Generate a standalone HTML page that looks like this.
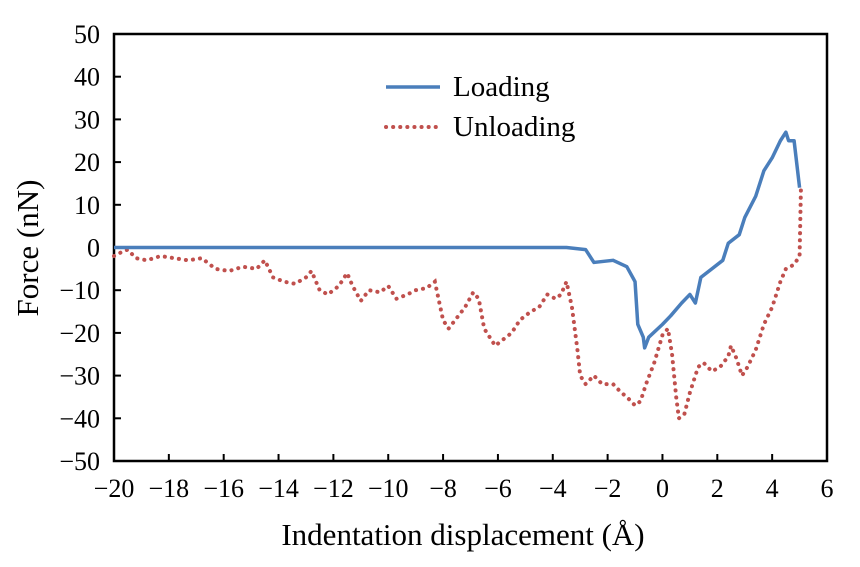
<!DOCTYPE html>
<html><head><meta charset="utf-8"><style>
body{margin:0;background:#fff;}
svg text{font-family:"Liberation Serif",serif;fill:#000;}
</style></head><body>
<svg id="chart" width="860" height="562"></svg>
<script>
const xTicks=[-20,-18,-16,-14,-12,-10,-8,-6,-4,-2,0,2,4,6];
const yTicks=[-50,-40,-30,-20,-10,0,10,20,30,40,50];
const loadX=[-20,-10,-3.5,-2.8,-2.5,-1.8,-1.3,-1.0,-0.9,-0.7,-0.65,-0.5,0,0.3,0.7,1.0,1.2,1.4,1.8,2.2,2.4,2.8,3.0,3.4,3.7,4.0,4.3,4.5,4.6,4.8,5.0];
const loadY=[0,0,0,-0.5,-3.5,-3,-4.5,-8,-18,-21,-23.5,-21,-18,-16,-13,-11,-13,-7,-5,-3,1,3,7,12,18,21,25,27,25,25,14];
const unX=[-20,-19.7,-19.5,-19.2,-18.8,-18.3,-17.8,-17.3,-16.8,-16.3,-15.8,-15.3,-14.8,-14.5,-14.2,-13.8,-13.4,-13,-12.8,-12.5,-12.2,-11.8,-11.5,-11.3,-11,-10.7,-10.3,-10,-9.7,-9.3,-9,-8.6,-8.3,-8.0,-7.8,-7.5,-7.2,-6.9,-6.7,-6.5,-6.1,-5.9,-5.5,-5.2,-4.8,-4.5,-4.2,-3.9,-3.7,-3.5,-3.3,-3.1,-3.0,-2.8,-2.5,-2.2,-1.8,-1.5,-1.3,-1.0,-0.8,-0.6,-0.3,0.0,0.2,0.35,0.5,0.6,0.8,1.0,1.3,1.5,1.8,2.1,2.4,2.5,2.7,2.9,3.1,3.4,3.7,4.0,4.3,4.5,4.8,5.0,5.05];
const unY=[-2,-1,-0.5,-2.5,-3,-2,-2.5,-3,-2.5,-5,-5.5,-4.5,-5,-3,-7,-8,-8.5,-7,-5.5,-10,-11,-9,-6,-9,-12.5,-10,-10.5,-9,-12,-11,-10,-9.5,-8,-17,-19,-16.5,-14,-10.5,-12,-19,-23,-22,-20,-17,-15,-14,-11,-12,-11,-8,-14,-24,-30,-32,-30,-32,-32,-34,-35,-37,-36,-32,-27,-20.5,-19,-25,-35,-40,-39,-34,-28,-27,-29,-28,-25.5,-23,-26,-30,-28,-24,-18,-14,-8,-5,-4,-2,14];
const NS="http://www.w3.org/2000/svg";
const svg=document.getElementById('chart');
const X0=114,X1=827,Y0=461,Y1=34;
const sx=v=>X0+(v+20)/26*(X1-X0);
const sy=v=>Y0-(v+50)/100*(Y0-Y1);
function mk(t,a,p){const e=document.createElementNS(NS,t);for(const k in a)e.setAttribute(k,a[k]);(p||svg).appendChild(e);return e;}
let e;
e=mk('rect',{x:X0,y:Y1,width:X1-X0,height:Y0-Y1,fill:'none',stroke:'#000','stroke-width':2.5});


xTicks.forEach(t=>{
 e=mk('line',{x1:sx(t),x2:sx(t),y1:Y0,y2:Y0-7,stroke:'#000','stroke-width':2});
 
 
 e=mk('text',{x:sx(t),y:Y0+36,'text-anchor':'middle','font-size':26});
 e.textContent=(t<0?'\u2212'+(-t):t);
 
 
});
yTicks.forEach(t=>{
 e=mk('line',{x1:X0,x2:X0+7,y1:sy(t),y2:sy(t),stroke:'#000','stroke-width':2});
 
 
 e=mk('text',{x:X0-14,y:sy(t)+9,'text-anchor':'end','font-size':26});
 e.textContent=(t<0?'\u2212'+(-t):t);
 
 
});
e=mk('polyline',{points:unX.map((x,i)=>sx(x)+','+sy(unY[i])).join(' '),fill:'none',stroke:'#c0504d','stroke-width':4,'stroke-dasharray':'0.1 7','stroke-linecap':'round'});


e=mk('polyline',{points:loadX.map((x,i)=>sx(x)+','+sy(loadY[i])).join(' '),fill:'none',stroke:'#4a7ebb','stroke-width':3.5,'stroke-linejoin':'round'});


e=mk('line',{x1:386,x2:440,y1:87,y2:87,stroke:'#4a7ebb','stroke-width':3.5});


e=mk('text',{x:453,y:96,'font-size':29});e.textContent='Loading';


e=mk('line',{x1:386,x2:440,y1:127,y2:127,stroke:'#c0504d','stroke-width':4,'stroke-dasharray':'0.1 7','stroke-linecap':'round'});


e=mk('text',{x:453,y:136,'font-size':29});e.textContent='Unloading';


e=mk('text',{x:463,y:545,'text-anchor':'middle','font-size':31});e.textContent='Indentation displacement (\u00C5)';


e=mk('text',{x:0,y:0,'text-anchor':'middle','font-size':31,transform:'translate(38,248) rotate(-90)'});e.textContent='Force (nN)';


</script>
</body></html>
